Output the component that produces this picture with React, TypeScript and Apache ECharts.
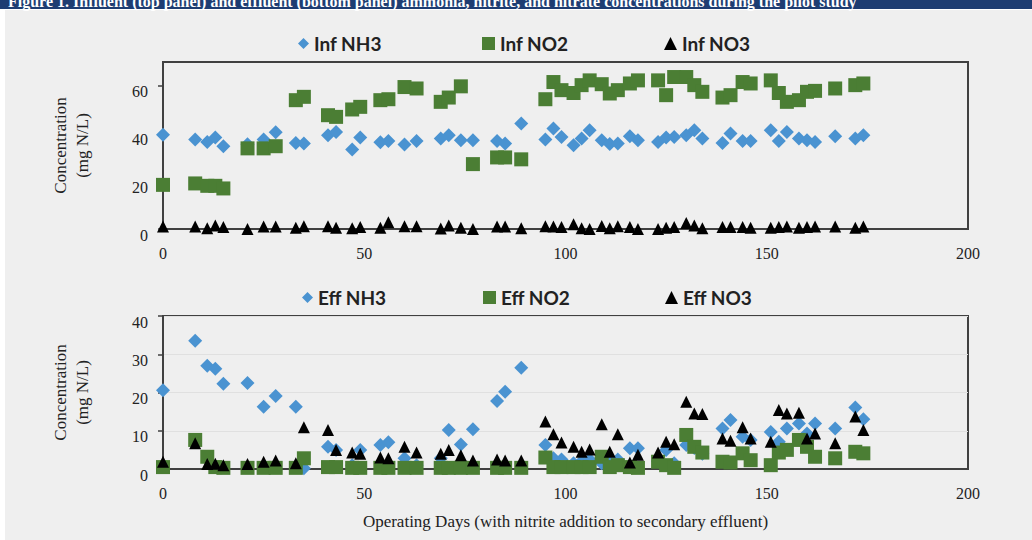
import React, { useEffect, useRef } from "react";
import * as echarts from "echarts";

// Operating days shared by both panels
const days = [
  0, 8, 11, 13, 15, 21, 25, 28, 33, 35, 41, 43, 47, 49, 54, 56, 60, 63, 69, 71,
  74, 77, 83, 85, 89, 95, 97, 99, 102, 104, 106, 109, 111, 113, 116, 118, 123,
  125, 127, 130, 132, 134, 139, 141, 144, 146, 151, 153, 155, 158, 160, 162,
  167, 172, 174,
];

// Influent concentrations (mg N/L)
const infNH3 = [
  39.5, 37.5, 36.5, 38.4, 34.7, 35.5, 37.5, 40.6, 36.1, 35.8, 39.3, 40.7, 33.3,
  38.4, 36.4, 36.9, 35.4, 36.9, 37.9, 39.3, 37.2, 37.2, 36.9, 35.8, 44.2, 37.5,
  42.1, 38.6, 35.1, 37.9, 41.4, 37.2, 35.6, 35.8, 38.9, 37.2, 36.5, 38.4, 38.6,
  39.3, 41.4, 37.9, 36.1, 40.0, 36.9, 36.9, 41.4, 36.9, 40.7, 37.9, 37.2, 36.5,
  38.9, 37.9, 39.3,
];
const infNO2 = [
  18.5, 19.1, 18.1, 18.1, 17.0, 33.8, 33.8, 34.7, 54.0, 55.4, 47.7, 47.0, 50.1,
  51.2, 54.0, 54.4, 59.5, 58.9, 53.3, 55.1, 59.8, 27.2, 30.0, 30.0, 29.2, 54.4,
  61.6, 58.2, 57.0, 60.3, 62.3, 60.7, 56.8, 58.2, 61.0, 62.3, 62.3, 56.1, 63.7,
  63.7, 60.3, 57.5, 55.1, 56.1, 61.6, 61.0, 62.3, 57.0, 53.3, 54.0, 57.5, 57.9,
  58.9, 60.3, 61.0,
];
const infNO3 = [
  1.0, 1.0, 0.3, 1.5, 0.8, 0.0, 1.0, 1.0, 0.5, 1.2, 1.2, 0.5, 0.3, 0.8, 0.5,
  2.8, 1.2, 1.2, 0.2, 1.5, 0.5, 0.0, 1.0, 1.0, 0.3, 1.2, 1.0, 0.8, 2.0, 0.3, 0.0,
  1.3, 0.3, 1.2, 0.8, 0.0, 0.0, 0.5, 0.8, 2.5, 1.5, 0.3, 0.8, 0.8, 0.8, 0.5, 0.5,
  0.8, 1.0, 0.5, 0.8, 1.0, 1.0, 0.5, 1.0,
];

// Effluent concentrations (mg N/L)
const effNH3 = [
  20.6, 33.5, 27.0, 26.2, 22.3, 22.5, 16.3, 19.1, 16.3, 0.2, 5.8, 5.0, 1.0, 5.0,
  6.3, 7.0, 2.8, 1.0, 2.8, 10.2, 6.4, 10.4, 17.8, 20.2, 26.5, 6.3, 2.8, 2.5, 1.5,
  2.0, 2.5, 1.5, 2.0, 2.5, 5.4, 5.4, 2.0, 5.0, 1.5, 6.3, 5.5, 4.0, 10.6, 12.8,
  8.4, 7.6, 9.7, 7.1, 10.6, 11.9, 9.3, 11.9, 10.6, 16.1, 13.0,
];
const effNO2 = [
  0.5, 7.6, 3.2, 0.5, 0.3, 0.3, 0.3, 0.3, 0.3, 2.8, 0.5, 0.5, 0.3, 0.3, 0.3, 0.3,
  0.3, 0.3, 0.3, 0.3, 0.3, 0.3, 0.3, 0.3, 0.3, 3.0, 0.5, 0.5, 0.5, 0.5, 0.5, 3.2,
  0.5, 1.0, 0.5, 0.3, 1.9, 1.0, 0.3, 8.9, 5.8, 4.3, 1.9, 1.7, 4.1, 2.3, 1.0, 4.3,
  5.0, 7.6, 5.8, 3.2, 2.8, 4.5, 4.1,
];
const effNO3 = [
  1.9, 6.7, 1.3, 1.4, 1.0, 1.3, 1.9, 2.2, 1.5, 10.9, 10.2, 5.0, 4.3, 4.0, 3.0,
  2.8, 5.8, 4.3, 4.0, 5.0, 3.6, 2.2, 2.5, 2.2, 2.2, 12.4, 9.1, 6.9, 5.8, 4.5, 5.1,
  11.7, 4.5, 9.1, 1.7, 3.7, 4.3, 7.1, 6.5, 17.6, 14.5, 14.4, 8.0, 7.4, 10.9, 8.0,
  7.1, 15.4, 14.5, 14.7, 8.0, 9.3, 6.7, 13.7, 10.2,
];

const infNames = ["Inf NH3", "Inf NO2", "Inf NO3"];
const effNames = ["Eff NH3", "Eff NO2", "Eff NO3"];
const xTicks = [0, 50, 100, 150, 200];
const topYTicks = [0, 20, 40, 60];
const bottomYTicks = [0, 10, 20, 30, 40];

const headerText =
  "Figure 1. Influent (top panel) and effluent (bottom panel) ammonia, nitrite, and nitrate concentrations during the pilot study";

const SERIF = '"Liberation Serif", "DejaVu Serif", serif';
const SANS = 'Lato, "Open Sans", sans-serif';
const AXIS_COLOR = "#404040";
const BLUE = "#4a93d1";
const GREEN = "#4b7e34";
const BLACK = "#000000";

const pairs = (vals: number[]) => days.map((d, i) => [d, vals[i]]);

const symbols = [
  { symbol: "diamond", size: 14, color: BLUE },
  { symbol: "rect", size: 14, color: GREEN },
  { symbol: "triangle", size: 12, color: BLACK },
];

// horizontal placement of each legend entry (icon's left edge)
const topLegendLefts = [293, 477, 659];
const bottomLegendLefts = [297, 478, 660];

export default function App() {
  const ref = useRef<HTMLDivElement>(null);

  useEffect(() => {
    if (!ref.current) return;
    const chart = echarts.init(ref.current, undefined, { renderer: "svg" });

    const xAxisBase = (gridIndex: number, withName: boolean) => ({
      type: "value",
      gridIndex,
      min: 0,
      max: 200,
      interval: 50,
      axisLine: { show: true, onZero: false, lineStyle: { color: AXIS_COLOR, width: 2 } },
      axisTick: { show: false },
      splitLine: { show: false },
      axisLabel: {
        margin: 16,
        fontFamily: SERIF,
        fontSize: 16,
        color: "#222",
        customValues: xTicks,
      },
      name: withName
        ? "Operating Days (with nitrite addition to secondary effluent)"
        : "",
      nameLocation: "middle",
      nameGap: 44,
      nameTextStyle: { fontFamily: SERIF, fontSize: 17, color: "#222" },
    });

    const yAxisBase = (
      gridIndex: number,
      max: number,
      interval: number,
      ticks: number[],
      grid: boolean
    ) => ({
      type: "value",
      gridIndex,
      min: 0,
      max,
      interval,
      axisLine: { show: true, lineStyle: { color: AXIS_COLOR, width: 2 } },
      axisTick: {
        show: true,
        length: 5,
        lineStyle: { color: AXIS_COLOR, width: 1.5 },
        customValues: ticks,
      },
      splitLine: { show: grid, lineStyle: { color: "#e0e0e0", width: 1 } },
      axisLabel: {
        margin: 15,
        fontFamily: SERIF,
        fontSize: 16,
        color: "#222",
        verticalAlign: "top",
        lineHeight: 12,
        customValues: ticks,
      },
      name: "Concentration\n(mg N/L)",
      nameLocation: "middle",
      nameGap: 70,
      nameTextStyle: {
        fontFamily: SERIF,
        fontSize: 17,
        lineHeight: 22,
        color: "#222",
      },
    });

    const makeSeries = (
      names: string[],
      values: number[][],
      axisIndex: number
    ) =>
      names.map((name, i) => ({
        type: "scatter",
        name,
        xAxisIndex: axisIndex,
        yAxisIndex: axisIndex,
        symbol: symbols[i].symbol,
        symbolSize: symbols[i].size,
        itemStyle: { color: symbols[i].color, opacity: 1 },
        clip: false,
        data: pairs(values[i]),
      }));

    const makeLegends = (names: string[], lefts: number[], top: number) =>
      names.map((n, i) => ({
        data: [{ name: n, icon: symbols[i].symbol }],
        left: lefts[i],
        top,
        orient: "horizontal",
        itemWidth: i === 0 ? 11 : 13,
        itemHeight: i === 0 ? 11 : 13,
        textStyle: {
          fontFamily: SANS,
          fontWeight: "bold",
          fontSize: 19,
          color: "#222",
        },
        selectedMode: false,
      }));

    const gridBase = (top: number, height: number) => ({
      left: 163,
      top,
      width: 805,
      height,
      containLabel: false,
      outerBoundsMode: "none",
      show: true,
      borderColor: AXIS_COLOR,
      borderWidth: 2,
      backgroundColor: "transparent",
    });

    chart.setOption({
      animation: false,
      backgroundColor: "#ffffff",
      graphic: [
        {
          type: "rect",
          z: -10,
          silent: true,
          shape: { x: 5, y: 10, width: 1027, height: 530 },
          style: { fill: "#efefef" },
        },
        {
          type: "rect",
          z: -10,
          silent: true,
          shape: { x: 0, y: 0, width: 1032, height: 9 },
          style: { fill: "#1e3d72" },
        },
        {
          type: "text",
          z: -9,
          silent: true,
          x: 8,
          y: -7,
          style: {
            text: headerText,
            fill: "#ffffff",
            font: 'bold 16px "Liberation Serif", serif',
            verticalAlign: "top",
          },
        },
      ],
      legend: [
        ...makeLegends(infNames, topLegendLefts, 29),
        ...makeLegends(effNames, bottomLegendLefts, 283),
      ],
      grid: [gridBase(62, 167), gridBase(316, 153)],
      xAxis: [xAxisBase(0, false), xAxisBase(1, true)],
      yAxis: [
        yAxisBase(0, 70, 20, topYTicks, false),
        yAxisBase(1, 40, 10, bottomYTicks, true),
      ],
      series: [
        ...makeSeries(infNames, [infNH3, infNO2, infNO3], 0),
        ...makeSeries(effNames, [effNH3, effNO2, effNO3], 1),
      ],
    });

    return () => chart.dispose();
  }, []);

  return (
    <div
      style={{
        position: "fixed",
        left: 0,
        top: 0,
        width: 1032,
        height: 540,
        background: "#ffffff",
      }}
    >
      <div ref={ref} style={{ width: 1032, height: 540 }} />
    </div>
  );
}
